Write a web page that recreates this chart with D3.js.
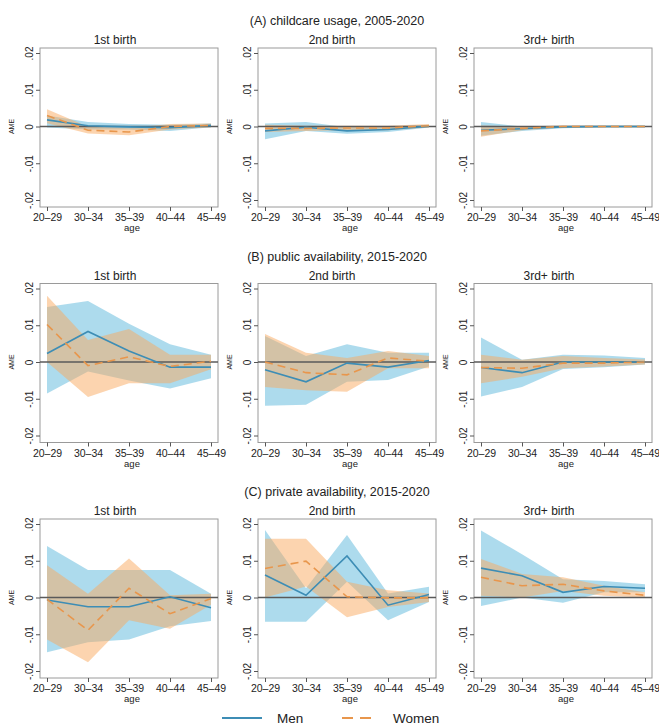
<!DOCTYPE html>
<html>
<head>
<meta charset="utf-8">
<script src="https://cdn.jsdelivr.net/npm/d3@7"></script>
<style>
  body { margin: 0; background: #fff; }
  text { font-family: "Liberation Sans", Arial, sans-serif; fill: #222; }
</style>
</head>
<body>
<div id="chart"></div>
<script>
// Categories and labels
const ages = ["20–29", "30–34", "35–39", "40–44", "45–49"];
const groupTitles = ["(A) childcare usage, 2005-2020", "(B) public availability, 2015-2020", "(C) private availability, 2015-2020"];
const birthTitles = ["1st birth", "2nd birth", "3rd+ birth"];
const yTicks = [0.02, 0.01, 0, -0.01, -0.02];
const yTickLabels = [".02", ".01", "0", "-.01", "-.02"];

// Panels in reading order: A1, A2, A3, B1, B2, B3, C1, C2, C3
const menEst = [
    [0.0018, 0.0002, -0.0001, -0.0003, 0.0003],
    [-0.0012, -0.0002, -0.0012, -0.0008, 0.0001],
    [-0.0010, -0.0006, -0.0001, 0.0000, 0.0000],
    [0.0023, 0.0083, 0.0030, -0.0014, -0.0014],
    [-0.0021, -0.0054, -0.0003, -0.0014, 0.0004],
    [-0.0015, -0.0029, 0.0000, 0.0000, 0.0000],
    [-0.0007, -0.0025, -0.0025, 0.0002, -0.0028],
    [0.0061, 0.0006, 0.0113, -0.0021, 0.0008],
    [0.0080, 0.0059, 0.0014, 0.0030, 0.0025]
];
const menLo = [
    [-0.0003, -0.0008, -0.0008, -0.0012, -0.0002],
    [-0.0035, -0.0012, -0.0020, -0.0015, -0.0003],
    [-0.0025, -0.0012, -0.0005, -0.0002, -0.0002],
    [-0.0086, -0.0026, -0.0050, -0.0072, -0.0044],
    [-0.0119, -0.0116, -0.0054, -0.0049, -0.0012],
    [-0.0094, -0.0068, -0.0019, -0.0014, -0.0007],
    [-0.0149, -0.0122, -0.0114, -0.0078, -0.0064],
    [-0.0066, -0.0066, 0.0043, -0.0062, -0.0012],
    [-0.0023, 0.0000, -0.0014, 0.0014, 0.0014]
];
const menHi = [
    [0.0030, 0.0012, 0.0007, 0.0005, 0.0008],
    [0.0008, 0.0012, -0.0002, 0.0000, 0.0005],
    [0.0012, 0.0000, 0.0002, 0.0002, 0.0002],
    [0.0150, 0.0166, 0.0104, 0.0048, 0.0020],
    [0.0071, 0.0016, 0.0048, 0.0025, 0.0025],
    [0.0067, 0.0006, 0.0020, 0.0018, 0.0011],
    [0.0140, 0.0075, 0.0075, 0.0075, 0.0010],
    [0.0184, 0.0025, 0.0170, 0.0011, 0.0029],
    [0.0182, 0.0118, 0.0050, 0.0045, 0.0036]
];
const womenEst = [
    [0.0030, -0.0010, -0.0015, 0.0000, 0.0003],
    [-0.0005, -0.0005, -0.0004, -0.0004, 0.0002],
    [-0.0012, -0.0005, 0.0000, 0.0000, 0.0000],
    [0.0102, -0.0010, 0.0014, -0.0012, 0.0002],
    [0.0000, -0.0029, -0.0035, 0.0011, 0.0002],
    [-0.0015, -0.0017, -0.0003, -0.0003, 0.0000],
    [-0.0005, -0.0089, 0.0025, -0.0044, -0.0003],
    [0.0079, 0.0099, 0.0002, -0.0001, -0.0001],
    [0.0055, 0.0032, 0.0036, 0.0018, 0.0006]
];
const womenLo = [
    [0.0009, -0.0019, -0.0024, -0.0008, -0.0002],
    [-0.0015, -0.0012, -0.0010, -0.0010, -0.0003],
    [-0.0028, -0.0010, -0.0003, -0.0002, -0.0002],
    [0.0000, -0.0095, -0.0058, -0.0058, -0.0020],
    [-0.0068, -0.0077, -0.0081, -0.0017, -0.0017],
    [-0.0058, -0.0040, -0.0017, -0.0012, -0.0007],
    [-0.0114, -0.0176, -0.0062, -0.0085, -0.0020],
    [0.0000, 0.0030, -0.0054, -0.0026, -0.0012],
    [0.0005, 0.0000, 0.0018, 0.0005, 0.0000]
];
const womenHi = [
    [0.0047, -0.0001, -0.0005, 0.0007, 0.0008],
    [0.0005, 0.0002, 0.0002, 0.0002, 0.0007],
    [0.0003, 0.0000, 0.0003, 0.0002, 0.0002],
    [0.0180, 0.0060, 0.0090, 0.0020, 0.0020],
    [0.0076, 0.0025, 0.0011, 0.0030, 0.0016],
    [0.0020, 0.0006, 0.0016, 0.0011, 0.0007],
    [0.0088, 0.0010, 0.0106, 0.0006, 0.0010],
    [0.0160, 0.0160, 0.0043, 0.0020, 0.0011],
    [0.0105, 0.0064, 0.0055, 0.0032, 0.0014]
];

// Chart sizes
const width = 659,
    height = 727,
    boxW = 178,
    boxH = 159,
    colLeft = [40, 258, 474],
    rowTop = [48, 283.5, 519],
    titleCenter = [115, 332, 549];

const menColor = "#3d8db5",
    menBand = "#5cb8dc",
    womenColor = "#e8964c",
    womenBand = "#faa95f";

const svg = d3.select("#chart")
    .append("svg")
    .attr("width", width)
    .attr("height", height);

// Group titles
groupTitles.forEach((t, r) => {
    svg.append("text")
        .attr("x", 337)
        .attr("y", rowTop[r] - 23)
        .attr("text-anchor", "middle")
        .style("font-size", "12.5px")
        .text(t);
});

for (let r = 0; r < 3; r++) {
    for (let c = 0; c < 3; c++) {
        const i = r * 3 + c;
        const left = colLeft[c], top = rowTop[r];

        let x = d3.scalePoint()
            .domain(ages)
            .range([left + 7, left + boxW - 7]);

        let y = d3.scaleLinear()
            .domain([-0.02, 0.02])
            .range([top + boxH - 7, top + 5]);

        const g = svg.append("g");

        // Subplot title
        g.append("text")
            .attr("x", titleCenter[c])
            .attr("y", top - 4)
            .attr("text-anchor", "middle")
            .style("font-size", "12px")
            .text(birthTitles[c]);

        // Plot box
        g.append("rect")
            .attr("x", left)
            .attr("y", top)
            .attr("width", boxW)
            .attr("height", boxH)
            .attr("fill", "#fff")
            .attr("stroke", "#9a9a9a")
            .attr("stroke-width", 1);

        const rows = ages.map((a, k) => ({
            age: a,
            m: menEst[i][k], mlo: menLo[i][k], mhi: menHi[i][k],
            w: womenEst[i][k], wlo: womenLo[i][k], whi: womenHi[i][k]
        }));

        // Confidence bands
        g.append("path")
            .datum(rows)
            .attr("fill", menBand)
            .attr("fill-opacity", 0.5)
            .attr("d", d3.area().x(d => x(d.age)).y0(d => y(d.mlo)).y1(d => y(d.mhi)));

        g.append("path")
            .datum(rows)
            .attr("fill", womenBand)
            .attr("fill-opacity", 0.5)
            .attr("d", d3.area().x(d => x(d.age)).y0(d => y(d.wlo)).y1(d => y(d.whi)));

        // Zero line
        g.append("line")
            .attr("x1", left)
            .attr("x2", left + boxW)
            .attr("y1", y(0))
            .attr("y2", y(0))
            .attr("stroke", "#5a5a5a")
            .attr("stroke-width", 1.6);

        // Lines
        g.append("path")
            .datum(rows)
            .attr("fill", "none")
            .attr("stroke", menColor)
            .attr("stroke-width", 1.6)
            .attr("d", d3.line().x(d => x(d.age)).y(d => y(d.m)));

        g.append("path")
            .datum(rows)
            .attr("fill", "none")
            .attr("stroke", womenColor)
            .attr("stroke-width", 1.6)
            .attr("stroke-dasharray", "8,5")
            .attr("d", d3.line().x(d => x(d.age)).y(d => y(d.w)));

        // x-axis
        const xa = g.append("g")
            .attr("transform", `translate(0,${top + boxH})`)
            .call(d3.axisBottom(x).tickSize(4).tickPadding(3));
        xa.select(".domain").remove();
        xa.selectAll("line").attr("stroke", "#555");
        xa.selectAll("text")
            .style("font-size", "10.5px")
            .style("font-family", "'Liberation Sans', Arial, sans-serif")
            .attr("fill", "#333");

        g.append("text")
            .attr("x", left + boxW / 2 + 3)
            .attr("y", top + boxH + 24)
            .attr("text-anchor", "middle")
            .style("font-size", "9.5px")
            .attr("fill", "#333")
            .text("age");

        // y-axis
        const ya = g.append("g")
            .attr("transform", `translate(${left},0)`)
            .call(d3.axisLeft(y)
                .tickValues(yTicks)
                .tickFormat((d, k) => yTickLabels[k])
                .tickSize(4));
        ya.select(".domain").remove();
        ya.selectAll("line").attr("stroke", "#555");
        ya.selectAll("text")
            .attr("x", 0)
            .attr("dy", 0)
            .attr("transform", "translate(-7.5,0) rotate(-90)")
            .attr("text-anchor", "middle")
            .style("font-size", "10px")
            .style("font-family", "'Liberation Sans', Arial, sans-serif")
            .attr("fill", "#333");

        // y-axis label
        g.append("text")
            .attr("transform", `translate(${left - 26},${y(0)}) rotate(-90)`)
            .attr("text-anchor", "middle")
            .style("font-size", "7px")
            .attr("fill", "#333")
            .text("AME");
    }
}

// Legend
const legend = svg.append("g").attr("transform", "translate(0,718)");
legend.append("line")
    .attr("x1", 222).attr("x2", 262)
    .attr("stroke", menColor).attr("stroke-width", 2);
legend.append("text")
    .attr("x", 277).attr("y", 5)
    .style("font-size", "13.5px")
    .text("Men");
legend.append("line")
    .attr("x1", 342).attr("x2", 377)
    .attr("stroke", womenColor).attr("stroke-width", 2)
    .attr("stroke-dasharray", "11,7");
legend.append("text")
    .attr("x", 393).attr("y", 5)
    .style("font-size", "13.5px")
    .text("Women");
</script>
</body>
</html>
